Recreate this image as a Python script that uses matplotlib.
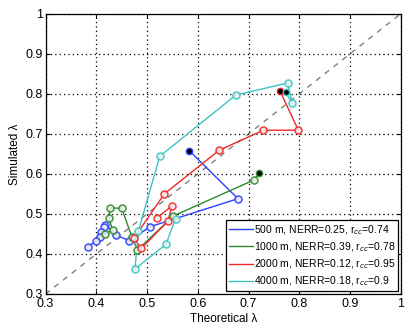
import matplotlib
matplotlib.use("Agg")
import matplotlib.pyplot as plt

plt.rcParams['font.family'] = ['Liberation Sans', 'DejaVu Sans']

labels = ["500 m, NERR=0.25, r$_{cc}$=0.74",
          "1000 m, NERR=0.39, r$_{cc}$=0.78",
          "2000 m, NERR=0.12, r$_{cc}$=0.95",
          "4000 m, NERR=0.18, r$_{cc}$=0.9"]
colors = ['#2a40ff', '#2e8a2e', '#f02828', '#3cc4c4']

# trajectories, first point is the black-marked one
x500 = [0.583, 0.679, 0.506, 0.465, 0.439, 0.418, 0.415, 0.410, 0.407, 0.399, 0.384]
y500 = [0.658, 0.538, 0.468, 0.433, 0.447, 0.472, 0.468, 0.455, 0.443, 0.432, 0.418]

x1000 = [0.721, 0.711, 0.552, 0.481, 0.470, 0.450, 0.427, 0.425, 0.432, 0.417]
y1000 = [0.603, 0.585, 0.495, 0.410, 0.443, 0.514, 0.515, 0.489, 0.460, 0.450]

x2000 = [0.762, 0.798, 0.729, 0.642, 0.534, 0.474, 0.489, 0.541, 0.549, 0.520]
y2000 = [0.807, 0.709, 0.709, 0.659, 0.550, 0.439, 0.414, 0.482, 0.520, 0.491]

x4000 = [0.773, 0.786, 0.777, 0.675, 0.525, 0.483, 0.476, 0.537, 0.556]
y4000 = [0.804, 0.776, 0.827, 0.797, 0.644, 0.458, 0.362, 0.424, 0.487]

xs = [x500, x1000, x2000, x4000]
ys = [y500, y1000, y2000, y4000]

ticks = [0.3, 0.4, 0.5, 0.6, 0.7, 0.8, 0.9, 1.0]
ticklabels = ["0.3", "0.4", "0.5", "0.6", "0.7", "0.8", "0.9", "1"]

fig = plt.figure(figsize=(4.18, 3.27), dpi=100)
ax = fig.add_axes([0.109, 0.101, 0.85, 0.857])

ax.plot([0.3, 1.0], [0.3, 1.0], linestyle=(0, (4, 4)), color='#808080', lw=1.0, zorder=1)

handles = []
for x, y, c, lab in zip(xs, ys, colors, labels):
    h, = ax.plot(x, y, '-', color=c, lw=1.0, zorder=3, label=lab)
    ax.plot(x[1:], y[1:], 'o', ms=5, mfc='#f2f2f2', mec=c, mew=1.2, zorder=4, alpha=0.85)
    ax.plot(x[:1], y[:1], 'o', ms=4.5, mfc='black', mec=c, mew=1.0, zorder=5)
    handles.append(h)

ax.set_xlim(0.3, 1.0)
ax.set_ylim(0.3, 1.0)
ax.set_xticks(ticks)
ax.set_xticklabels(ticklabels)
ax.set_yticks(ticks)
ax.set_yticklabels(ticklabels)
ax.grid(True, color='black', linestyle=(0, (1, 2.5)), lw=0.9)
ax.tick_params(direction='in', top=True, right=True, labelsize=9, length=3)
ax.tick_params(axis='x', pad=3)
ax.tick_params(axis='y', pad=2)
for s in ax.spines.values():
    s.set_linewidth(0.9)

ax.set_xlabel("Theoretical λ", fontsize=8.5, labelpad=2)
ax.set_ylabel("Simulated λ", fontsize=8.5, labelpad=3)

leg = ax.legend(handles=handles, loc='lower right', fontsize=7.5, frameon=True,
                fancybox=False, edgecolor='black', framealpha=1,
                handlelength=2.3, handletextpad=0.1, borderpad=0.3,
                labelspacing=0.35, borderaxespad=0.25)
leg.get_frame().set_linewidth(0.9)

fig.savefig("out.png", dpi=100)
